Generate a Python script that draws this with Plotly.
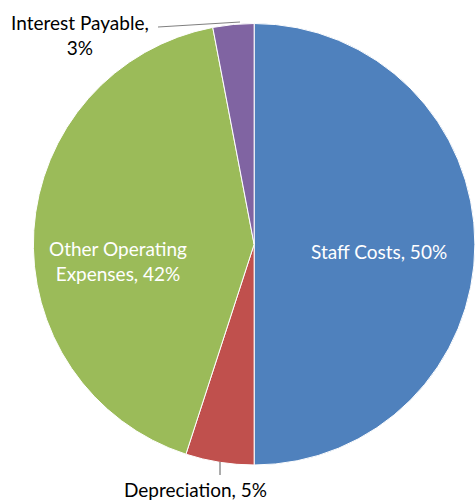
import plotly.graph_objects as go

labels = ["Staff Costs", "Depreciation", "Other Operating Expenses", "Interest Payable"]
values = [50, 5, 42, 3]
colors = ["#4F81BD", "#C0504D", "#9BBB59", "#8064A2"]

fig = go.Figure(go.Pie(
    labels=labels,
    values=values,
    sort=False,
    direction="clockwise",
    rotation=0,
    marker=dict(colors=colors, line=dict(color="white", width=1)),
    textinfo="none",
    hoverinfo="label+percent",
    domain=dict(x=[0.07, 1.0], y=[0.07, 0.953]),
    showlegend=False,
))

total = sum(values)
pct = [round(v * 100 / total) for v in values]

FONT = "Lato, Carlito, Calibri, sans-serif"
font_inside = dict(family=FONT, size=19, color="white")
font_out = dict(family=FONT, size=19, color="black")

annotations = [
    dict(text=f"{labels[0]}, {pct[0]}%", x=379 / 475, y=1 - 251 / 500, font=font_inside),
    dict(text=f"Other Operating<br>Expenses, {pct[2]}%", x=118 / 475, y=1 - 261 / 500, font=font_inside),
    dict(text=f"{labels[1]}, {pct[1]}%", x=195 / 475, y=1 - 489 / 500, font=font_out),
    dict(text=f"{labels[3]},<br>{pct[3]}%", x=80 / 475, y=1 - 35 / 500, font=font_out),
]
for a in annotations:
    a.update(xref="paper", yref="paper", showarrow=False, xanchor="center", yanchor="middle")

shapes = [
    dict(type="line", xref="paper", yref="paper", x0=158 / 475, y0=1 - 27 / 500, x1=240 / 475, y1=1 - 22 / 500,
         line=dict(color="#7f7f7f", width=1)),
    dict(type="line", xref="paper", yref="paper", x0=220 / 475, y0=1 - 462 / 500, x1=220 / 475, y1=1 - 475 / 500,
         line=dict(color="#595959", width=1)),
]

fig.update_layout(
    width=475, height=500,
    margin=dict(l=0, r=0, t=0, b=0),
    paper_bgcolor="white", plot_bgcolor="white",
    annotations=annotations,
    shapes=shapes,
)

fig.write_html("out.html", config={"displayModeBar": False},
               post_script="document.body.style.margin='0';document.body.style.overflow='hidden';")
